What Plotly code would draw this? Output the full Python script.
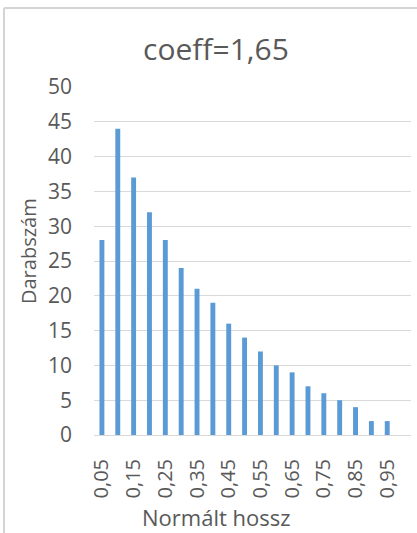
import plotly.graph_objects as go

# Histogram of normalised lengths
categories = ["0,05", "0,1", "0,15", "0,2", "0,25", "0,3", "0,35", "0,4", "0,45", "0,5",
              "0,55", "0,6", "0,65", "0,7", "0,75", "0,8", "0,85", "0,9", "0,95", "1"]
counts = [28, 44, 37, 32, 28, 24, 21, 19, 16, 14, 12, 10, 9, 7, 6, 5, 4, 2, 2, 0]
tick_labels = categories[::2]

title_text = "coeff=1,65"
x_title = "Normált hossz"
y_title = "Darabszám"

FONT = "Open Sans"
GREY = "#595959"
LINE = "#d9d9d9"

fig = go.Figure(
    go.Bar(x=categories, y=counts, marker=dict(color="#5B9BD5", line=dict(width=0)))
)

W, H = 417, 533
ml, mr, mt, mb = 94, 6, 87, 98
pw = W - ml - mr
ph = H - mt - mb


def px_x(x):
    return (x - ml) / pw


def px_y(y):
    return (H - mb - y) / ph


fig.update_layout(
    width=W, height=H,
    margin=dict(l=ml, r=mr, t=mt, b=mb),
    paper_bgcolor="white", plot_bgcolor="white",
    bargap=0.69,
    showlegend=False,
    font=dict(family=FONT, color=GREY, size=20),
    title=dict(text=title_text, x=216 / W, xanchor="center", xref="container",
               y=1 - 49 / H, yanchor="middle", font=dict(size=30, color=GREY, family=FONT)),
    xaxis=dict(
        type="category", tickmode="array", tickvals=tick_labels, ticktext=tick_labels,
        tickangle=-90, showgrid=False, showline=True, linecolor=LINE, linewidth=1,
        ticks="", ticklabelstandoff=15, tickfont=dict(size=20, color=GREY),
    ),
    yaxis=dict(
        range=[0, 50], dtick=5, showgrid=True, gridcolor=LINE, gridwidth=1,
        zeroline=False, showline=False, ticks="", ticklabelstandoff=21,
        tickfont=dict(size=21, color=GREY),
    ),
)

# Axis titles
fig.add_annotation(text=y_title, xref="paper", yref="paper", x=px_x(28), y=px_y(251),
                   xanchor="center", yanchor="middle", textangle=-90, showarrow=False,
                   font=dict(size=20, color=GREY, family=FONT))
fig.add_annotation(text=x_title, xref="paper", yref="paper", x=px_x(216.5), y=px_y(517),
                   xanchor="center", yanchor="middle", showarrow=False,
                   font=dict(size=22, color=GREY, family=FONT))

# Outer chart frame (left and top edges)
frame = dict(color="#d4d4d4", width=2)
fig.add_shape(type="line", xref="paper", yref="paper", x0=px_x(4), x1=px_x(4),
              y0=px_y(H + 5), y1=px_y(8), line=frame)
fig.add_shape(type="line", xref="paper", yref="paper", x0=px_x(4), x1=px_x(W + 5),
              y0=px_y(8), y1=px_y(8), line=frame)

fig.write_html("out.html")
